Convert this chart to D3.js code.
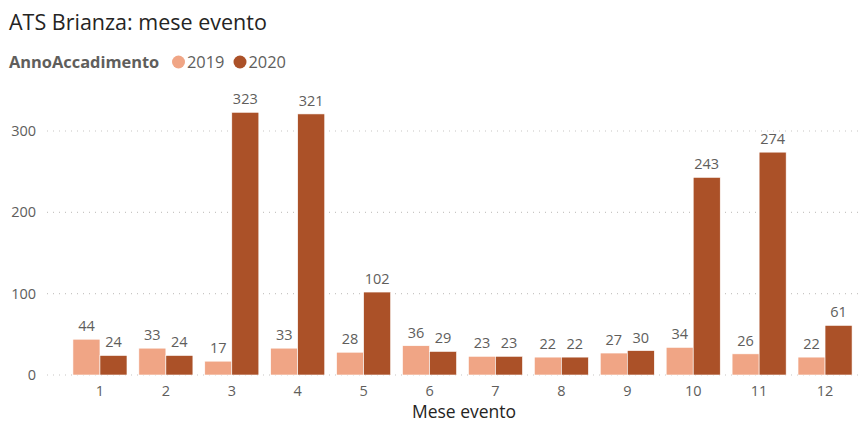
<!DOCTYPE html>
<html>
<head>
<meta charset="utf-8">
<script src="https://cdn.jsdelivr.net/npm/d3@7"></script>
<style>
  body { margin: 0; background: #fff; }
  svg { display: block; font-family: "Open Sans", "Noto Sans", sans-serif; }
</style>
</head>
<body>
<svg id="chart" width="863" height="422"></svg>
<script>
// Months and event counts per accident year
const months = ["1", "2", "3", "4", "5", "6", "7", "8", "9", "10", "11", "12"];
const series = ["2019", "2020"];
const values2019 = [44, 33, 17, 33, 28, 36, 23, 22, 27, 34, 26, 22];
const values2020 = [24, 24, 323, 321, 102, 29, 23, 22, 30, 243, 274, 61];
const yTicks = [0, 100, 200, 300];
const colors = ["#F0A585", "#AB5128"];

const svg = d3.select("#chart");
const plotLeft = 47, plotRight = 860;
const yBase = 375;

const x = d3.scaleBand().domain(months).range([67, 858]).paddingInner(0.18).paddingOuter(0.09);
const xs = d3.scaleBand().domain(series).range([0, x.bandwidth()]);
const y = d3.scaleLinear().domain([0, 300]).range([yBase, 131]);

// Title
svg.append("text").attr("x", 9).attr("y", 30)
  .attr("font-size", 21.5).attr("fill", "#252423").text("ATS Brianza: mese evento");

// Legend
const leg = svg.append("g");
leg.append("text").attr("x", 9).attr("y", 67.5).attr("font-size", 16.4)
  .attr("font-weight", "bold").attr("fill", "#605E5C").text("AnnoAccadimento");
const legItems = [{ x: 178.5, t: "2019", c: colors[0] }, { x: 240, t: "2020", c: colors[1] }];
legItems.forEach(d => {
  leg.append("circle").attr("cx", d.x).attr("cy", 62).attr("r", 6.5).attr("fill", d.c);
  leg.append("text").attr("x", d.x + 8.5).attr("y", 67.5).attr("font-size", 16.4)
    .attr("fill", "#605E5C").text(d.t);
});

// Gridlines and y axis
const yAxis = svg.append("g");
yTicks.forEach(t => {
  yAxis.append("line").attr("x1", plotLeft).attr("x2", plotRight)
    .attr("y1", y(t)).attr("y2", y(t))
    .attr("stroke", "#C8C6C4").attr("stroke-width", 1.2).attr("stroke-dasharray", "1,5");
  yAxis.append("text").attr("x", 36).attr("y", y(t) + 5).attr("text-anchor", "end")
    .attr("font-size", 14.5).attr("fill", "#605E5C").text(t);
});

// Bars
const data = months.map((m, i) => ({ m, v: [values2019[i], values2020[i]] }));
const groups = svg.append("g").selectAll("g").data(data).join("g")
  .attr("transform", d => `translate(${x(d.m)},0)`);

groups.selectAll("rect").data(d => d.v.map((v, j) => ({ s: series[j], v, c: colors[j] })))
  .join("rect")
  .attr("x", d => xs(d.s)).attr("width", xs.bandwidth())
  .attr("y", d => y(d.v)).attr("height", d => y(0) - y(d.v))
  .attr("fill", d => d.c).attr("stroke", "#fff").attr("stroke-width", 0.6);

groups.selectAll("text").data(d => d.v.map((v, j) => ({ s: series[j], v })))
  .join("text")
  .attr("x", d => xs(d.s) + xs.bandwidth() / 2).attr("y", d => y(d.v) - 8)
  .attr("text-anchor", "middle").attr("font-size", 14.5).attr("fill", "#605E5C")
  .text(d => d.v);

// X axis labels
svg.append("g").selectAll("text").data(months).join("text")
  .attr("x", d => x(d) + x.bandwidth() / 2).attr("y", 396)
  .attr("text-anchor", "middle").attr("font-size", 14.5).attr("fill", "#605E5C")
  .text(d => d);

svg.append("text").attr("x", 464).attr("y", 418).attr("text-anchor", "middle")
  .attr("font-size", 17.5).attr("fill", "#252423").text("Mese evento");
</script>
</body>
</html>
